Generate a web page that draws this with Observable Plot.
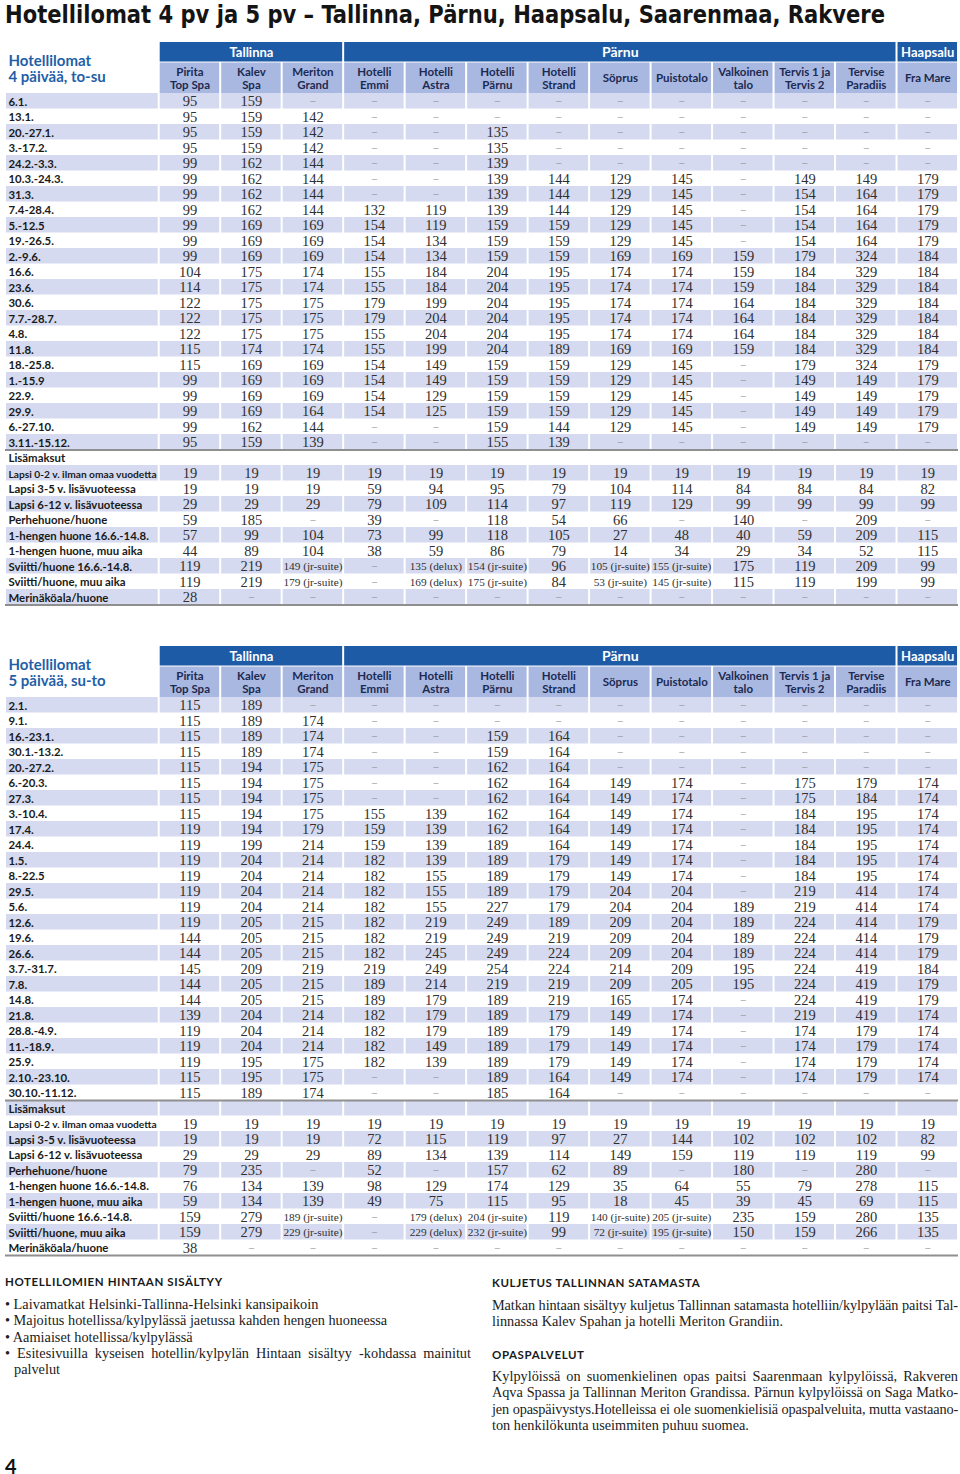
<!DOCTYPE html>
<html><head><meta charset="utf-8">
<script src="https://cdn.jsdelivr.net/npm/d3@7"></script>
<script src="https://cdn.jsdelivr.net/npm/@observablehq/plot@0.6"></script>
<style>
body{margin:0;background:#fff;width:960px;height:1474px;position:relative;overflow:hidden;}
#title{position:absolute;left:0;top:0;}
#title text{font-family:"Liberation Sans Narrow","DejaVu Sans Condensed","DejaVu Sans",sans-serif;font-weight:bold;font-size:24px;fill:#141414;}
#t1{position:absolute;left:0;top:42px;}
#t2{position:absolute;left:0;top:646px;}
.h{position:absolute;font-family:Lato,sans-serif;font-weight:bold;font-size:11.5px;letter-spacing:0.6px;line-height:16px;color:#1a1a1a;white-space:nowrap;}
.p{position:absolute;font-family:"Liberation Serif",serif;font-size:14.3px;line-height:16.3px;color:#222;width:466px;}
.p div{white-space:nowrap;}
.p div.j{text-align:justify;text-align-last:justify;white-space:normal;}
.b{padding-left:9px;}
#pnum{position:absolute;left:5px;top:1455px;font-family:Lato,sans-serif;font-weight:bold;font-size:20px;line-height:22px;color:#111;}
</style></head>
<body>
<svg id="title" width="960" height="32"><text x="5" y="23" textLength="880" lengthAdjust="spacingAndGlyphs">Hotellilomat 4 pv ja 5 pv – Tallinna, Pärnu, Haapsalu, Saarenmaa, Rakvere</text></svg>
<div id="t1"></div>
<div id="t2"></div>
<div class="h" style="left:5px;top:1274px;">HOTELLILOMIEN HINTAAN SISÄLTYY</div>
<div class="p" style="left:5px;top:1296px;width:466px;">
  <div>• Laivamatkat Helsinki-Tallinna-Helsinki kansipaikoin</div>
  <div>• Majoitus hotellissa/kylpylässä jaetussa kahden hengen huoneessa</div>
  <div>• Aamiaiset hotellissa/kylpylässä</div>
  <div class="j">• Esitesivuilla kyseisen hotellin/kylpylän Hintaan sisältyy -kohdassa mainitut</div>
  <div class="b">palvelut</div>
</div>
<div class="h" style="left:492px;top:1275px;">KULJETUS TALLINNAN SATAMASTA</div>
<div class="p" style="left:492px;top:1297px;">
  <div class="j">Matkan hintaan sisältyy kuljetus Tallinnan satamasta hotelliin/kylpylään paitsi Tal-</div>
  <div>linnassa Kalev Spahan ja hotelli Meriton Grandiin.</div>
</div>
<div class="h" style="left:492px;top:1347px;">OPASPALVELUT</div>
<div class="p" style="left:492px;top:1368px;">
  <div class="j">Kylpylöissä on suomenkielinen opas paitsi Saarenmaan kylpylöissä, Rakveren</div>
  <div class="j">Aqva Spassa ja Tallinnan Meriton Grandissa. Pärnun kylpylöissä on Saga Matko-</div>
  <div class="j">jen opaspäivystys.Hotelleissa ei ole suomenkielisiä opaspalveluita, mutta vastaano-</div>
  <div>ton henkilökunta useimmiten puhuu suomea.</div>
</div>
<div id="pnum">4</div>
<script>
// ---------- DATA ----------
const hotels = ["Pirita\nTop Spa","Kalev\nSpa","Meriton\nGrand","Hotelli\nEmmi","Hotelli\nAstra","Hotelli\nPärnu","Hotelli\nStrand","Söprus","Puistotalo","Valkoinen\ntalo","Tervis 1 ja\nTervis 2","Tervise\nParadiis","Fra Mare"];
const cities = ["Tallinna","Pärnu","Haapsalu"];
const cityHotelCounts = [3, 9, 1];
const extraHeader = "Lisämaksut";
const extraLabels = ["Lapsi 0-2 v. ilman omaa vuodetta","Lapsi 3-5 v. lisävuoteessa","Lapsi 6-12 v. lisävuoteessa","Perhehuone/huone","1-hengen huone 16.6.-14.8.","1-hengen huone, muu aika","Sviitti/huone 16.6.-14.8.","Sviitti/huone, muu aika","Merinäköala/huone"];

const title4 = "Hotellilomat\n4 päivää, to-su";
const dates4 = ["6.1.","13.1.","20.-27.1.","3.-17.2.","24.2.-3.3.","10.3.-24.3.","31.3.","7.4-28.4.","5.-12.5","19.-26.5.","2.-9.6.","16.6.","23.6.","30.6.","7.7.-28.7.","4.8.","11.8.","18.-25.8.","1.-15.9","22.9.","29.9.","6.-27.10.","3.11.-15.12."];
const _ = null;
const prices4 = [
  [95,159,_,_,_,_,_,_,_,_,_,_,_],
  [95,159,142,_,_,_,_,_,_,_,_,_,_],
  [95,159,142,_,_,135,_,_,_,_,_,_,_],
  [95,159,142,_,_,135,_,_,_,_,_,_,_],
  [99,162,144,_,_,139,_,_,_,_,_,_,_],
  [99,162,144,_,_,139,144,129,145,_,149,149,179],
  [99,162,144,_,_,139,144,129,145,_,154,164,179],
  [99,162,144,132,119,139,144,129,145,_,154,164,179],
  [99,169,169,154,119,159,159,129,145,_,154,164,179],
  [99,169,169,154,134,159,159,129,145,_,154,164,179],
  [99,169,169,154,134,159,159,169,169,159,179,324,184],
  [104,175,174,155,184,204,195,174,174,159,184,329,184],
  [114,175,174,155,184,204,195,174,174,159,184,329,184],
  [122,175,175,179,199,204,195,174,174,164,184,329,184],
  [122,175,175,179,204,204,195,174,174,164,184,329,184],
  [122,175,175,155,204,204,195,174,174,164,184,329,184],
  [115,174,174,155,199,204,189,169,169,159,184,329,184],
  [115,169,169,154,149,159,159,129,145,_,179,324,179],
  [99,169,169,154,149,159,159,129,145,_,149,149,179],
  [99,169,169,154,129,159,159,129,145,_,149,149,179],
  [99,169,164,154,125,159,159,129,145,_,149,149,179],
  [99,162,144,_,_,159,144,129,145,_,149,149,179],
  [95,159,139,_,_,155,139,_,_,_,_,_,_]
];
const extras4 = [
  [19,19,19,19,19,19,19,19,19,19,19,19,19],
  [19,19,19,59,94,95,79,104,114,84,84,84,82],
  [29,29,29,79,109,114,97,119,129,99,99,99,99],
  [59,185,_,39,_,118,54,66,_,140,_,209,_],
  [57,99,104,73,99,118,105,27,48,40,59,209,115],
  [44,89,104,38,59,86,79,14,34,29,34,52,115],
  [119,219,"149 (jr-suite)",_,"135 (delux)","154 (jr-suite)",96,"105 (jr-suite)","155 (jr-suite)",175,119,209,99],
  [119,219,"179 (jr-suite)",_,"169 (delux)","175 (jr-suite)",84,"53 (jr-suite)","145 (jr-suite)",115,119,199,99],
  [28,_,_,_,_,_,_,_,_,_,_,_,_]
];

const title5 = "Hotellilomat\n5 päivää, su-to";
const dates5 = ["2.1.","9.1.","16.-23.1.","30.1.-13.2.","20.-27.2.","6.-20.3.","27.3.","3.-10.4.","17.4.","24.4.","1.5.","8.-22.5","29.5.","5.6.","12.6.","19.6.","26.6.","3.7.-31.7.","7.8.","14.8.","21.8.","28.8.-4.9.","11.-18.9.","25.9.","2.10.-23.10.","30.10.-11.12."];
const prices5 = [
  [115,189,_,_,_,_,_,_,_,_,_,_,_],
  [115,189,174,_,_,_,_,_,_,_,_,_,_],
  [115,189,174,_,_,159,164,_,_,_,_,_,_],
  [115,189,174,_,_,159,164,_,_,_,_,_,_],
  [115,194,175,_,_,162,164,_,_,_,_,_,_],
  [115,194,175,_,_,162,164,149,174,_,175,179,174],
  [115,194,175,_,_,162,164,149,174,_,175,184,174],
  [115,194,175,155,139,162,164,149,174,_,184,195,174],
  [119,194,179,159,139,162,164,149,174,_,184,195,174],
  [119,199,214,159,139,189,164,149,174,_,184,195,174],
  [119,204,214,182,139,189,179,149,174,_,184,195,174],
  [119,204,214,182,155,189,179,149,174,_,184,195,174],
  [119,204,214,182,155,189,179,204,204,_,219,414,174],
  [119,204,214,182,155,227,179,204,204,189,219,414,174],
  [119,205,215,182,219,249,189,209,204,189,224,414,179],
  [144,205,215,182,219,249,219,209,204,189,224,414,179],
  [144,205,215,182,245,249,224,209,204,189,224,414,179],
  [145,209,219,219,249,254,224,214,209,195,224,419,184],
  [144,205,215,189,214,219,219,209,205,195,224,419,179],
  [144,205,215,189,179,189,219,165,174,_,224,419,179],
  [139,204,214,182,179,189,179,149,174,_,219,419,174],
  [119,204,214,182,179,189,179,149,174,_,174,179,174],
  [119,204,214,182,149,189,179,149,174,_,174,179,174],
  [119,195,175,182,139,189,179,149,174,_,174,179,174],
  [115,195,175,_,_,189,164,149,174,_,174,179,174],
  [115,189,174,_,_,185,164,_,_,_,_,_,_]
];
const extras5 = [
  [19,19,19,19,19,19,19,19,19,19,19,19,19],
  [19,19,19,72,115,119,97,27,144,102,102,102,82],
  [29,29,29,89,134,139,114,149,159,119,119,119,99],
  [79,235,_,52,_,157,62,89,_,180,_,280,_],
  [76,134,139,98,129,174,129,35,64,55,79,278,115],
  [59,134,139,49,75,115,95,18,45,39,45,69,115],
  [159,279,"189 (jr-suite)",_,"179 (delux)","204 (jr-suite)",119,"140 (jr-suite)","205 (jr-suite)",235,159,280,135],
  [159,279,"229 (jr-suite)",_,"229 (delux)","232 (jr-suite)",99,"72 (jr-suite)","195 (jr-suite)",150,159,266,135],
  [38,_,_,_,_,_,_,_,_,_,_,_,_]
];

// ---------- STYLE ----------
const DARK = "#1d5ba6", SUBC = "#a9b8e1", STRIPE = "#d5daf0", TITLEC = "#1f5fa8";
const SANS = "Lato, 'Open Sans', sans-serif", SERIF = "'Liberation Serif', 'Times New Roman', serif";
const ROW = 15.5, BAND = 20, SUB = 31, LABEL = 2.5;

function table(title, dates, prices, extraValues) {
  const rows = [
    ...dates.map((d, i) => ({label: d, values: prices[i]})),
    {label: extraHeader, values: null},
    ...extraLabels.map((d, i) => ({label: d, values: extraValues[i]}))
  ];
  rows.forEach((r, i) => r.i = i);
  const n = rows.length, nMain = dates.length, nh = hotels.length;
  const hTop = -(BAND + SUB) / ROW, hMid = -SUB / ROW;
  const plotH = BAND + SUB + n * ROW;
  const cells = rows.flatMap(r => r.values ? r.values.map((v, c) => ({i: r.i, c, v})) : []);
  const stripeCells = rows.filter(r => r.i % 2 === 0).flatMap(r => [
    {i: r.i, x1: -LABEL, x2: 0},
    ...hotels.map((h, c) => ({i: r.i, x1: c, x2: c + 1}))
  ]);
  let acc = 0;
  const cityCells = cities.map((name, k) => { const s = acc; acc += cityHotelCounts[k]; return {name, x1: s, x2: acc}; });
  const hotelCells = hotels.map((name, c) => ({name, c}));

  return Plot.plot({
    width: 960, height: plotH + 4, margin: 0,
    x: {type: "linear", domain: [-LABEL, nh], range: [5, 958], axis: null},
    y: {type: "linear", domain: [hTop, n], range: [0, plotH], axis: null},
    style: {background: "transparent", overflow: "visible"},
    marks: [
      Plot.rect(stripeCells, {x1: "x1", x2: "x2", y1: d => d.i, y2: d => d.i + 1, fill: STRIPE, insetLeft: 1, insetRight: 1}),
      Plot.rect(cityCells, {x1: "x1", x2: "x2", y1: () => hTop, y2: () => hMid, fill: DARK, insetLeft: 1, insetRight: 1, insetBottom: 0.5}),
      Plot.rect(hotelCells, {x1: "c", x2: d => d.c + 1, y1: () => hMid, y2: () => 0, fill: SUBC, insetLeft: 1, insetRight: 1, insetTop: 0.5}),
      Plot.ruleY([nMain, n], {x1: -LABEL, x2: nh, stroke: "#8f8f8f", strokeWidth: 2}),
      Plot.text([title], {x: -LABEL, y: hTop / 2, text: d => d, textAnchor: "start", dx: 3, dy: 1, fill: TITLEC, fontFamily: SANS, fontWeight: "bold", fontSize: 15, lineHeight: 1.05}),
      Plot.text(cityCells, {x: d => (d.x1 + d.x2) / 2, y: () => (hTop + hMid) / 2, text: "name", fill: "white", fontFamily: SANS, fontWeight: "bold", fontSize: d => d.name.length > 7 ? 13 : 14}),
      Plot.text(hotelCells, {x: d => d.c + 0.5, y: () => hMid / 2, text: "name", fill: "#1c2a52", fontFamily: SANS, fontWeight: "bold", fontSize: 11.5, lineHeight: 1.13}),
      Plot.text(rows, {x: -LABEL, y: d => d.i + 0.5, text: "label", textAnchor: "start", dx: 3, dy: 1, fill: "#1a1a1a", fontFamily: SANS, fontWeight: "bold", fontSize: d => d.label.length > 28 ? 10.2 : 11.4}),
      Plot.text(cells.filter(d => d.v !== null), {x: d => d.c + 0.5, y: d => d.i + 0.5, text: d => String(d.v), fill: "#303030", fontFamily: SERIF, fontSize: d => typeof d.v === "string" ? 11.3 : 14.5, dy: 0.5}),
      Plot.text(cells.filter(d => d.v === null), {x: d => d.c + 0.5, y: d => d.i + 0.5, text: () => "–", fill: "#8a8a8a", fontFamily: SERIF, fontSize: 10})
    ]
  });
}

document.getElementById("t1").appendChild(table(title4, dates4, prices4, extras4));
document.getElementById("t2").appendChild(table(title5, dates5, prices5, extras5));

// keep each justified footer line on one line by tightening letter spacing if needed
document.querySelectorAll(".p div.j").forEach(el => {
  let ls = 0;
  while (el.getBoundingClientRect().height > 18 && ls > -1.2) {
    ls -= 0.05;
    el.style.letterSpacing = ls + "px";
  }
});
</script>
</body></html>
